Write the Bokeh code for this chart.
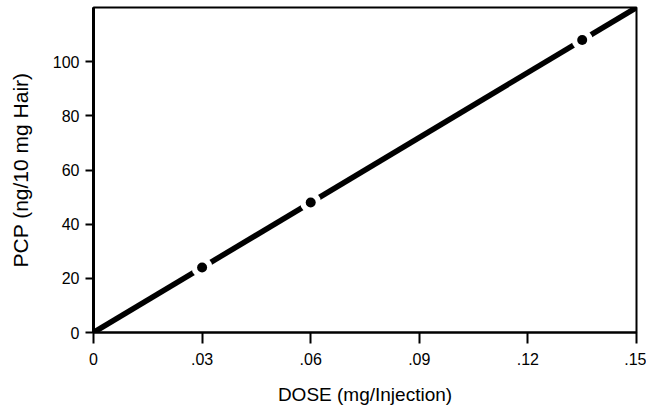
from bokeh.plotting import figure
from bokeh.models import Range1d, FixedTicker
from bokeh.embed import file_html
from bokeh.resources import INLINE

# Data
dose = [0.03, 0.06, 0.135]
pcp = [24, 48, 108]
fit_dose = [0.0, 0.15]
fit_pcp = [0.0, 120.0]
x_ticks = [0, 0.03, 0.06, 0.09, 0.12, 0.15]
x_tick_labels = ["0", ".03", ".06", ".09", ".12", ".15"]
y_ticks = [0, 20, 40, 60, 80, 100]
x_title = "DOSE (mg/Injection)"
y_title = "PCP (ng/10 mg Hair)"

FONT = "Liberation Sans"

p = figure(width=646, height=412, output_backend="svg", toolbar_location=None,
           x_range=Range1d(0, 0.15), y_range=Range1d(0, 120),
           min_border_left=93, min_border_right=10, min_border_top=7, min_border_bottom=80)
p.background_fill_color = "white"
p.border_fill_color = "white"
p.outline_line_color = "black"
p.outline_line_width = 2
p.xgrid.visible = False
p.ygrid.visible = False

p.line(fit_dose, fit_pcp, line_color="black", line_width=5.5)
p.scatter(dose, pcp, size=21, fill_color="white", line_color=None)
p.scatter(dose, pcp, size=10, fill_color="black", line_color=None)

xa = p.xaxis[0]
xa.ticker = FixedTicker(ticks=x_ticks)
xa.major_label_overrides = {t: l for t, l in zip(x_ticks, x_tick_labels)}
xa.axis_label = x_title
xa.axis_line_width = 2
xa.major_tick_in = 0
xa.major_tick_out = 11
xa.major_tick_line_width = 2
xa.minor_tick_line_color = None
xa.major_label_standoff = 9
xa.axis_label_standoff = 16
xa.axis_label_text_font_size = "19px"

ya = p.yaxis[0]
ya.ticker = FixedTicker(ticks=y_ticks)
ya.axis_label = y_title
ya.axis_line_width = 3
ya.major_tick_in = 0
ya.major_tick_out = 8
ya.major_tick_line_width = 2
ya.minor_tick_line_color = None
ya.major_label_standoff = 6
ya.axis_label_standoff = 18
ya.axis_label_text_font_size = "21px"

for ax in (xa, ya):
    ax.major_label_text_font = FONT
    ax.major_label_text_font_size = "16px"
    ax.major_label_text_color = "black"
    ax.axis_label_text_font = FONT
    ax.axis_label_text_font_style = "normal"
    ax.axis_label_text_color = "black"
    ax.axis_line_color = "black"
    ax.major_tick_line_color = "black"

open("out.html", "w").write(file_html(p, INLINE))
